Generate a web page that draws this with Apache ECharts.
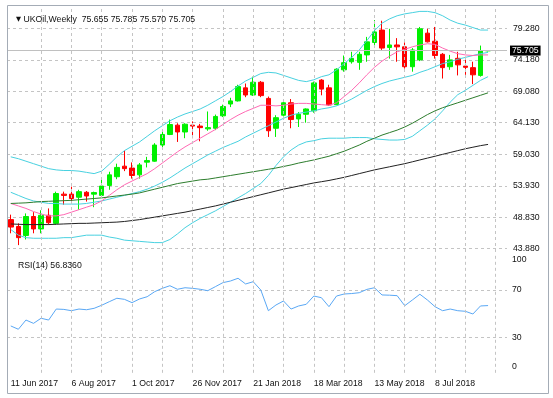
<!DOCTYPE html>
<html>
<head>
<meta charset="utf-8">
<script src="https://cdn.jsdelivr.net/npm/echarts@6/dist/echarts.min.js"></script>
<style>
  html, body { margin: 0; padding: 0; background: #fff; }
  #chart { width: 553px; height: 398px; }
</style>
</head>
<body>
<div id="chart"></div>
<script>
// week start dates, the last two are only empty room on the right
const weeks = [
  '11 Jun 2017', '18 Jun 2017', '25 Jun 2017', '2 Jul 2017', '9 Jul 2017', '16 Jul 2017', '23 Jul 2017', '30 Jul 2017',
  '6 Aug 2017', '13 Aug 2017', '20 Aug 2017', '27 Aug 2017', '3 Sep 2017', '10 Sep 2017', '17 Sep 2017', '24 Sep 2017',
  '1 Oct 2017', '8 Oct 2017', '15 Oct 2017', '22 Oct 2017', '29 Oct 2017', '5 Nov 2017', '12 Nov 2017', '19 Nov 2017',
  '26 Nov 2017', '3 Dec 2017', '10 Dec 2017', '17 Dec 2017', '24 Dec 2017', '31 Dec 2017', '7 Jan 2018', '14 Jan 2018',
  '21 Jan 2018', '28 Jan 2018', '4 Feb 2018', '11 Feb 2018', '18 Feb 2018', '25 Feb 2018', '4 Mar 2018', '11 Mar 2018',
  '18 Mar 2018', '25 Mar 2018', '1 Apr 2018', '8 Apr 2018', '15 Apr 2018', '22 Apr 2018', '29 Apr 2018', '6 May 2018',
  '13 May 2018', '20 May 2018', '27 May 2018', '3 Jun 2018', '10 Jun 2018', '17 Jun 2018', '24 Jun 2018', '1 Jul 2018',
  '8 Jul 2018', '15 Jul 2018', '22 Jul 2018', '29 Jul 2018', '5 Aug 2018', '12 Aug 2018', '19 Aug 2018', '26 Aug 2018',
  '2 Sep 2018', '9 Sep 2018'
];

// open, high, low, close
const ohlc = [
  [48.5, 49.3, 46.3, 47.3], [47.4, 47.9, 44.4, 45.6], [45.95, 49.5, 45.3, 49.0], [49.0, 49.7, 46.3, 47.0],
  [47.0, 50.0, 46.3, 49.2], [49.2, 50.3, 47.7, 48.0], [47.9, 53.0, 47.7, 52.7], [52.6, 53.0, 50.9, 52.4],
  [52.6, 53.8, 51.4, 51.9], [52.1, 53.3, 50.1, 53.0], [52.9, 53.1, 51.4, 52.3], [52.6, 53.0, 50.5, 52.85],
  [52.4, 55.1, 52.2, 53.9], [54.0, 56.2, 53.3, 55.7], [55.4, 57.5, 55.0, 56.9], [57.1, 59.6, 56.3, 56.7],
  [56.8, 57.7, 55.1, 55.6], [55.7, 57.6, 55.1, 57.3], [57.75, 58.6, 56.9, 58.0], [57.9, 60.8, 57.8, 60.5],
  [60.5, 62.7, 60.0, 62.2], [62.2, 64.6, 62.1, 63.8], [63.7, 64.0, 61.0, 62.6], [62.6, 64.0, 61.6, 63.85],
  [63.7, 64.3, 61.6, 63.55], [63.55, 63.9, 61.1, 63.3], [63.1, 65.9, 62.8, 63.3], [63.2, 65.4, 62.9, 65.1],
  [65.2, 67.0, 65.0, 66.7], [67.1, 68.1, 66.6, 67.6], [67.6, 70.2, 67.5, 69.9], [69.7, 70.4, 68.2, 68.55],
  [68.55, 71.5, 68.4, 70.6], [70.6, 70.8, 68.2, 68.45], [68.0, 68.3, 61.8, 62.8], [63.2, 65.3, 61.8, 64.9],
  [65.3, 67.5, 65.1, 67.3], [67.3, 67.9, 63.2, 64.6], [64.7, 65.8, 63.4, 65.45], [65.45, 66.4, 64.1, 66.3],
  [66.0, 70.7, 65.7, 70.5], [70.95, 71.1, 68.5, 69.5], [69.7, 70.2, 66.8, 66.95], [67.0, 72.85, 66.9, 72.7],
  [72.6, 74.9, 72.3, 73.75], [73.9, 75.5, 73.6, 74.45], [73.8, 75.5, 72.6, 75.1], [75.0, 77.9, 73.9, 77.1],
  [77.0, 80.6, 76.6, 78.7], [79.0, 80.5, 75.8, 76.1], [76.2, 79.2, 74.4, 76.6], [76.6, 77.7, 73.9, 76.3],
  [76.3, 77.0, 72.8, 73.1], [73.1, 76.1, 72.3, 75.8], [74.2, 79.5, 74.0, 79.2], [78.5, 79.2, 77.0, 77.1],
  [77.2, 79.5, 74.4, 74.9], [75.1, 75.3, 71.2, 72.95], [73.1, 75.0, 72.6, 74.2], [74.45, 75.5, 71.7, 73.4],
  [73.2, 74.7, 71.8, 73.0], [72.95, 73.9, 70.3, 71.8], [71.7, 76.5, 71.5, 75.7], [75.655, 75.785, 75.57, 75.705]
];

// bollinger bands (cyan)
const bbUpper = [
  58.6, 58.3, 57.9, 57.5, 57.1, 56.7, 56.5, 56.4, 56.4, 56.3, 56.1, 55.9, 56.3, 57.4, 58.6, 59.6,
  60.3, 61.0, 61.9, 62.8, 63.6, 64.4, 65.0, 65.5, 65.9, 66.3, 66.9, 67.6, 68.3, 69.1, 70.0, 70.8,
  71.4, 72.0, 72.2, 72.1, 71.7, 71.3, 70.9, 70.7, 71.0, 71.5, 71.8, 72.6, 73.6, 74.6, 75.8, 77.3,
  78.9, 80.1, 80.8, 81.3, 81.6, 81.8, 82.0, 82.0, 81.8, 81.3, 80.6, 80.1, 79.8, 79.4, 79.0, 79.0
];
const bbMiddle = [
  52.9, 52.4, 51.9, 51.5, 51.3, 51.1, 51.1, 51.0, 51.0, 51.0, 51.1, 51.3, 51.5, 51.8, 52.1, 52.4,
  52.7, 53.0, 53.4, 53.9, 54.5, 55.2, 56.0, 56.8, 57.5, 58.2, 58.9, 59.5, 60.1, 60.6, 61.1, 61.8,
  62.4, 63.0, 63.6, 64.2, 64.8, 65.3, 65.6, 65.8, 66.0, 66.3, 66.5, 66.8, 67.3, 67.9, 68.6, 69.3,
  69.9, 70.4, 70.8, 71.1, 71.4, 71.7, 72.2, 72.6, 73.1, 73.6, 73.9, 74.3, 74.6, 74.9, 75.2, 75.4
];
const bbLower = [
  46.9, 46.0, 45.6, 45.5, 45.5, 45.5, 45.5, 45.6, 45.6, 45.8, 46.0, 46.0, 46.0, 45.7, 45.5, 45.2,
  45.1, 45.0, 44.9, 44.8, 44.8, 45.3, 46.2, 47.2, 48.0, 48.7, 49.3, 49.9, 50.6, 51.3, 52.0, 52.7,
  53.5, 54.3, 55.6, 57.2, 58.6, 59.7, 60.5, 61.0, 61.2, 61.5, 61.6, 61.6, 61.6, 61.7, 61.7, 61.7,
  61.5, 61.4, 61.3, 61.3, 61.4, 61.9, 62.8, 63.7, 64.7, 66.0, 67.4, 68.6, 69.3, 70.1, 70.9, 71.5
];
// moving averages: pink (fast), green (slow), black (long)
const maFast = [
  51.1, 50.7, 50.3, 49.8, 49.4, 49.1, 49.1, 49.3, 49.7, 50.1, 50.5, 50.9, 51.5, 52.4, 53.3, 54.1,
  54.7, 55.3, 55.9, 56.7, 57.6, 58.5, 59.4, 60.2, 60.9, 61.6, 62.3, 63.0, 63.8, 64.6, 65.3, 65.9,
  66.4, 66.9, 66.9, 66.8, 66.9, 67.1, 67.2, 67.2, 67.1, 67.0, 66.9, 67.3, 68.3, 69.3, 70.5, 71.8,
  73.0, 74.0, 74.8, 75.5, 75.9, 76.3, 76.6, 76.8, 76.7, 76.1, 75.6, 75.2, 75.0, 74.9, 75.0, 75.0
];
const maSlow = [
  51.1, 51.15, 51.2, 51.3, 51.4, 51.45, 51.5, 51.55, 51.6, 51.7, 51.8, 51.9, 52.0, 52.15, 52.3, 52.45,
  52.6, 52.8, 53.1, 53.4, 53.7, 54.0, 54.3, 54.5, 54.7, 54.9, 55.0, 55.2, 55.4, 55.6, 55.8, 56.0,
  56.2, 56.4, 56.6, 56.8, 57.05, 57.3, 57.6, 57.85, 58.1, 58.4, 58.7, 59.1, 59.5, 60.0, 60.5, 61.1,
  61.6, 62.1, 62.5, 62.9, 63.4, 64.0, 64.7, 65.4, 66.0, 66.5, 66.9, 67.3, 67.7, 68.1, 68.5, 68.9
];
const maLong = [
  47.8, 47.75, 47.7, 47.7, 47.7, 47.7, 47.75, 47.8, 47.85, 47.9, 47.9, 47.95, 48.0, 48.05, 48.1, 48.2,
  48.35, 48.5, 48.7, 48.9, 49.1, 49.3, 49.5, 49.7, 49.95, 50.2, 50.45, 50.7, 51.0, 51.3, 51.6, 51.9,
  52.2, 52.5, 52.8, 53.1, 53.4, 53.65, 53.9, 54.15, 54.4, 54.6, 54.8, 55.05, 55.3, 55.6, 55.9, 56.2,
  56.5, 56.75, 57.0, 57.25, 57.5, 57.8, 58.1, 58.4, 58.7, 59.0, 59.3, 59.6, 59.9, 60.15, 60.4, 60.6
];
const rsi = [
  39.6, 36.8, 44.6, 41.8, 46.1, 44.6, 53.9, 53.6, 52.5, 53.9, 53.3, 54.5, 57.1, 60.1, 63.0, 62.1,
  59.3, 62.4, 64.3, 68.6, 71.4, 73.6, 70.6, 71.9, 71.4, 70.6, 69.4, 72.8, 76.2, 77.6, 79.9, 75.1,
  77.0, 70.0, 52.5, 57.3, 60.7, 53.9, 56.5, 57.9, 64.9, 63.5, 55.9, 64.9, 66.6, 67.0, 67.7, 70.5,
  71.9, 65.8, 65.6, 65.2, 56.7, 61.5, 66.4, 61.5, 55.9, 52.5, 53.9, 52.5, 52.0, 49.7, 56.5, 56.836
];
const priceTicks = [79.28, 74.18, 69.08, 64.13, 59.03, 53.93, 48.83, 43.88];
const rsiTicks = [0, 30, 70, 100];
const rsiLevels = [30, 70];
// bar indexes carrying a vertical grid line
const gridBars = [4, 8, 12, 16, 20, 24, 28, 32, 36, 40, 44, 48, 52, 56, 60, 64];

const FONT = 'Liberation Sans';
const FS = 8.7;
const gridDash = { color: '#c4c4c4', type: [3, 3], width: 1 };
const last = ohlc[ohlc.length - 1];

const chart = echarts.init(document.getElementById('chart'));

const lineSeries = (name, data, color) => ({
  name, type: 'line', data, xAxisIndex: 0, yAxisIndex: 0,
  showSymbol: false, symbol: 'none', silent: true, z: 3,
  lineStyle: { color, width: 1 }
});

// empty series that only carries the vertical dashed grid of a panel
const vGrid = axisIndex => ({
  name: 'vgrid' + axisIndex, type: 'line', data: [], xAxisIndex: axisIndex, yAxisIndex: axisIndex,
  silent: true, z: 1,
  markLine: {
    silent: true, symbol: ['none', 'none'], animation: false, label: { show: false },
    lineStyle: gridDash,
    data: gridBars.map(i => ({ xAxis: weeks[i] }))
  }
});

chart.setOption({
  animation: false,
  backgroundColor: '#fff',
  textStyle: { fontFamily: FONT },
  title: [
    {
      left: 11, top: 10,
      text: '{tri|▼} UKOil,Weekly  ' + last.map(v => v.toFixed(3)).join(' '),
      textStyle: {
        fontSize: FS, fontFamily: FONT, fontWeight: 'normal', color: '#111',
        rich: { tri: { fontFamily: 'DejaVu Sans', fontSize: 6.5, color: '#111' } }
      }
    },
    {
      left: 13, top: 256.5,
      text: 'RSI(14) ' + rsi[rsi.length - 1].toFixed(4),
      textStyle: { fontSize: FS, fontFamily: FONT, fontWeight: 'normal', color: '#111' }
    }
  ],
  graphic: [
    { type: 'rect', silent: true, z: 100, shape: { x: 7.5, y: 5.5, width: 541, height: 388 },
      style: { fill: 'none', stroke: '#a4acb6', lineWidth: 1 } }
  ],
  grid: [
    { left: 7, right: 46, top: 5, height: 247 },
    { left: 7, right: 46, top: 254.5, height: 118.3 }
  ],
  xAxis: [
    {
      type: 'category', gridIndex: 0, data: weeks, boundaryGap: true,
      axisLine: { show: false }, axisTick: { show: false }, axisLabel: { show: false },
      splitLine: { show: false }
    },
    {
      type: 'category', gridIndex: 1, data: weeks, boundaryGap: true,
      axisLine: { show: false }, axisTick: { show: false },
      axisLabel: {
        interval: i => i % 8 === 0 && i <= 56, align: 'left', margin: 6,
        fontSize: FS, fontFamily: FONT, color: '#111'
      },
      splitLine: { show: false }
    }
  ],
  yAxis: [
    {
      type: 'value', gridIndex: 0, position: 'right', min: 43.29, max: 83.03,
      axisLine: { show: false },
      axisTick: { show: false, customValues: priceTicks },
      axisLabel: { customValues: priceTicks, formatter: v => v.toFixed(3), margin: 6,
        fontSize: FS, fontFamily: FONT, color: '#111' },
      splitLine: { show: true, lineStyle: gridDash }
    },
    {
      type: 'value', gridIndex: 1, position: 'right', min: 0, max: 100,
      axisLine: { show: false },
      axisTick: { show: false, customValues: rsiLevels },
      axisLabel: {
        customValues: rsiTicks, margin: 5,
        fontSize: FS, fontFamily: FONT, color: '#111',
        formatter: v => v === 100 ? '{t|100}' : v === 0 ? '{b|0}' : String(v),
        rich: {
          t: { fontSize: FS, fontFamily: FONT, color: '#111', padding: [10, 0, 0, 0] },
          b: { fontSize: FS, fontFamily: FONT, color: '#111', padding: [0, 0, 12, 0] }
        }
      },
      splitLine: { show: true, lineStyle: gridDash }
    }
  ],
  series: [
    vGrid(0),
    vGrid(1),
    {
      name: 'UKOil', type: 'candlestick', xAxisIndex: 0, yAxisIndex: 0, z: 2,
      barWidth: 5, silent: true,
      data: ohlc.map(d => [d[0], d[3], d[2], d[1]]),
      itemStyle: {
        color: '#00f000', color0: '#ff0000',
        borderColor: '#00f000', borderColor0: '#ff0000', borderWidth: 1
      },
      markLine: {
        silent: true, symbol: ['none', 'none'], animation: false,
        lineStyle: { color: '#c0c0c0', type: 'solid', width: 1 },
        label: {
          position: 'end', distance: 3, formatter: last[3].toFixed(3),
          color: '#fff', backgroundColor: '#000', padding: [1, 2, 0, 2],
          fontSize: FS, fontFamily: FONT
        },
        data: [{ yAxis: last[3] }]
      }
    },
    lineSeries('BB upper', bbUpper, '#48d1e0'),
    lineSeries('BB middle', bbMiddle, '#48d1e0'),
    lineSeries('BB lower', bbLower, '#48d1e0'),
    lineSeries('MA fast', maFast, '#ff69b4'),
    lineSeries('MA slow', maSlow, '#2d7d2d'),
    lineSeries('MA long', maLong, '#222222'),
    {
      name: 'RSI(14)', type: 'line', xAxisIndex: 1, yAxisIndex: 1, data: rsi,
      showSymbol: false, symbol: 'none', silent: true, z: 3,
      lineStyle: { color: '#5aa8f5', width: 1 }
    }
  ]
});
</script>
</body>
</html>
